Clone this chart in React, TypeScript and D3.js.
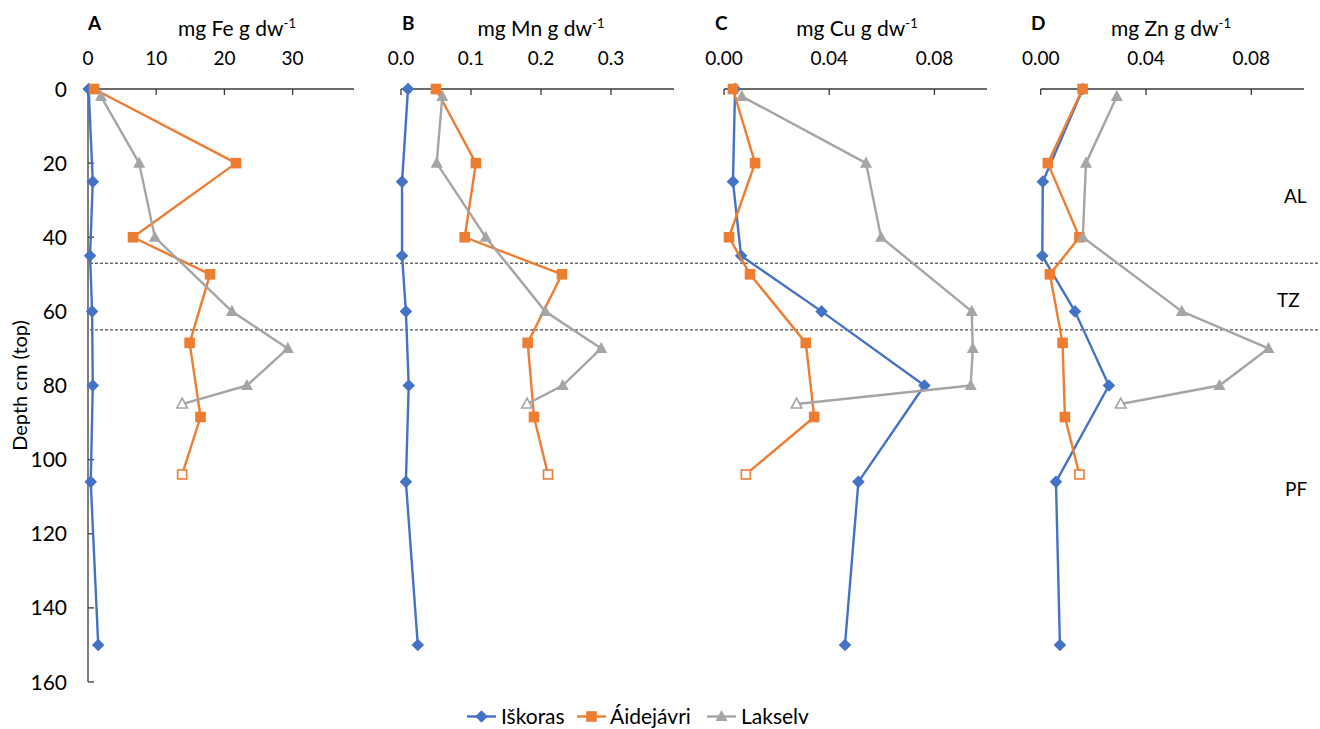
import React from "react";
import * as d3 from "d3";

// Sampling depths (cm from top) for each site
const depthIskoras = [0, 25, 45, 60, 80, 106, 150];
const depthAidejavri = [0, 20, 40, 50, 68.5, 88.5, 104];
const depthLakselv = [2, 20, 40, 60, 70, 80, 85];

// Concentrations, mg per g dry weight
const feIskoras = [0.1, 0.7, 0.3, 0.6, 0.7, 0.4, 1.5];
const feAidejavri = [0.9, 21.7, 6.6, 17.9, 14.9, 16.5, 13.8];
const feLakselv = [1.9, 7.5, 9.8, 21.1, 29.3, 23.3, 13.8];

const mnIskoras = [0.01, 0.0015, 0.0015, 0.007, 0.011, 0.007, 0.024];
const mnAidejavri = [0.05, 0.107, 0.091, 0.23, 0.181, 0.19, 0.21];
const mnLakselv = [0.059, 0.051, 0.121, 0.206, 0.286, 0.231, 0.18];

const cuIskoras = [0.0042, 0.0034, 0.0065, 0.0371, 0.0762, 0.0511, 0.046];
const cuAidejavri = [0.0034, 0.0118, 0.0019, 0.0099, 0.0311, 0.0343, 0.0083];
const cuLakselv = [0.0068, 0.054, 0.0597, 0.0942, 0.0946, 0.0938, 0.0276];

const znIskoras = [0.016, 0.0008, 0.0006, 0.013, 0.0259, 0.0058, 0.0073];
const znAidejavri = [0.0159, 0.0027, 0.0147, 0.0035, 0.0083, 0.0092, 0.0147];
const znLakselv = [0.0289, 0.0172, 0.016, 0.0536, 0.0865, 0.0679, 0.0304];

const siteNames = ["Iškoras", "Áidejávri", "Lakselv"];
const siteColors = ["#4472C4", "#ED7D31", "#A5A5A5"];
const siteMarkers = ["diamond", "square", "triangle"];
// last sample of Áidejávri and Lakselv is drawn hollow
const hollowLast = [false, true, true];

const depthTicks = [0, 20, 40, 60, 80, 100, 120, 140, 160];
const zoneBoundaries = [47, 65];
const zoneLabels = [
  { text: "AL", x: 1284, depth: 29 },
  { text: "TZ", x: 1277, depth: 57 },
  { text: "PF", x: 1285, depth: 108 },
];

const panelLetters = ["A", "B", "C", "D"];
const elements = ["Fe", "Mn", "Cu", "Zn"];
const xMax = [39, 0.39, 0.1, 0.1];
const xTicks = [
  [0, 10, 20, 30],
  [0, 0.1, 0.2, 0.3],
  [0, 0.04, 0.08],
  [0, 0.04, 0.08],
];
const xFormats = ["d", ".1f", ".2f", ".2f"];
const panelRanges: [number, number][] = [
  [88, 354],
  [401, 674],
  [724, 987],
  [1040.7, 1304],
];
const titleCenters = [237, 541, 857, 1171];
const letterX = [88, 402, 715, 1031];

const panelValues = [
  [feIskoras, feAidejavri, feLakselv],
  [mnIskoras, mnAidejavri, mnLakselv],
  [cuIskoras, cuAidejavri, cuLakselv],
  [znIskoras, znAidejavri, znLakselv],
];
const siteDepths = [depthIskoras, depthAidejavri, depthLakselv];

const FONT = "Lato, 'Open Sans', sans-serif";
const AXIS = "#3a3a3a";

const y = d3.scaleLinear().domain([0, 160]).range([89, 682]);

function Marker({ kind, x, y: cy, color, hollow }: any) {
  const fill = hollow ? "#fff" : color;
  const sw = hollow ? 1.6 : 0;
  if (kind === "diamond") {
    const r = 6.3;
    return (
      <path
        d={`M${x},${cy - r}L${x + r},${cy}L${x},${cy + r}L${x - r},${cy}Z`}
        fill={fill}
        stroke={color}
        strokeWidth={sw}
      />
    );
  }
  if (kind === "square") {
    const h = hollow ? 4.5 : 5.3;
    return (
      <rect x={x - h} y={cy - h} width={2 * h} height={2 * h} fill={fill} stroke={color} strokeWidth={sw} />
    );
  }
  const s = hollow ? 5.3 : 6;
  return (
    <path
      d={`M${x},${cy - s * 1.1}L${x + s},${cy + s * 0.75}L${x - s},${cy + s * 0.75}Z`}
      fill={fill}
      stroke={color}
      strokeWidth={sw}
      strokeLinejoin="miter"
    />
  );
}

function Panel({ idx }: { idx: number }) {
  const x = d3.scaleLinear().domain([0, xMax[idx]]).range(panelRanges[idx]);
  const fmt = d3.format(xFormats[idx]);
  const [x0, x1] = panelRanges[idx];
  const line = d3
    .line<[number, number]>()
    .x((d) => x(d[0]))
    .y((d) => y(d[1]));
  return (
    <g>
      <text x={letterX[idx]} y={30} fontFamily={FONT} fontWeight="bold" fontSize={19}>
        {panelLetters[idx]}
      </text>
      <text x={titleCenters[idx]} y={36} textAnchor="middle" fontFamily={FONT} fontSize={21}>
        {`mg ${elements[idx]} g dw`}
        <tspan dy={-8} fontSize={13}>-1</tspan>
      </text>
      {xTicks[idx].map((t) => (
        <g key={t}>
          <line x1={x(t)} x2={x(t)} y1={89} y2={95} stroke={AXIS} strokeWidth={1.3} />
          <text x={x(t)} y={65} textAnchor="middle" fontFamily={FONT} fontSize={19}>
            {fmt(t)}
          </text>
        </g>
      ))}
      <line x1={x0} x2={x1} y1={89} y2={89} stroke={AXIS} strokeWidth={1.3} />
      {panelValues[idx].map((vals, s) => {
        const pts: [number, number][] = vals.map((v, i) => [v, siteDepths[s][i]]);
        return (
          <g key={s}>
            <path d={line(pts) || ""} fill="none" stroke={siteColors[s]} strokeWidth={2.4} strokeLinejoin="round" />
            {pts.map((p, i) => (
              <Marker
                key={i}
                kind={siteMarkers[s]}
                x={x(p[0])}
                y={y(p[1])}
                color={siteColors[s]}
                hollow={hollowLast[s] && i === pts.length - 1}
              />
            ))}
          </g>
        );
      })}
    </g>
  );
}

export default function App() {
  const legendItems = [
    { x: 467, tx: 501 },
    { x: 577, tx: 610 },
    { x: 707, tx: 741 },
  ];
  return (
    <svg width={1320} height={729} style={{ position: "absolute", left: 0, top: 0, background: "#fff" }}>
      <rect width={1320} height={729} fill="#fff" />
      {/* depth axis */}
      <line x1={88} x2={88} y1={89} y2={682} stroke={AXIS} strokeWidth={1.3} />
      {depthTicks.map((t) => (
        <g key={t}>
          <line x1={88} x2={94} y1={y(t)} y2={y(t)} stroke={AXIS} strokeWidth={1.3} />
          <text x={67} y={y(t)} dy="0.36em" textAnchor="end" fontFamily={FONT} fontSize={21}>
            {t}
          </text>
        </g>
      ))}
      <text
        transform={`translate(27,${y(80)}) rotate(-90)`}
        textAnchor="middle"
        fontFamily={FONT}
        fontSize={20}
      >
        Depth cm (top)
      </text>
      {zoneBoundaries.map((d) => (
        <line key={d} x1={90} x2={1318} y1={y(d)} y2={y(d)} stroke="#222" strokeWidth={1} strokeDasharray="3,2" />
      ))}
      {zoneLabels.map((z) => (
        <text key={z.text} x={z.x} y={y(z.depth)} dy="0.36em" fontFamily={FONT} fontSize={19}>
          {z.text}
        </text>
      ))}
      {[0, 1, 2, 3].map((i) => (
        <Panel key={i} idx={i} />
      ))}
      {/* legend */}
      {legendItems.map((it, s) => (
        <g key={s}>
          <line x1={it.x} x2={it.x + 29} y1={716.5} y2={716.5} stroke={siteColors[s]} strokeWidth={2.4} />
          <Marker kind={siteMarkers[s]} x={it.x + 14.5} y={716.5} color={siteColors[s]} hollow={false} />
          <text x={it.tx} y={716.5} dy="0.36em" fontFamily={FONT} fontSize={21}>
            {siteNames[s]}
          </text>
        </g>
      ))}
    </svg>
  );
}
